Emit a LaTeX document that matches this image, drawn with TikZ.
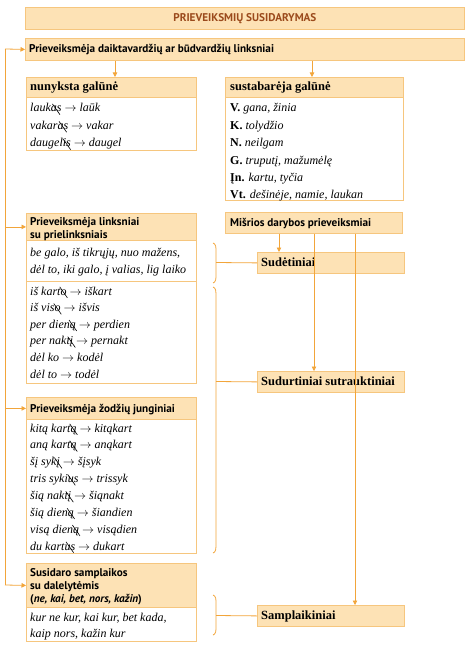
\documentclass[tikz,border=0pt]{standalone}
\usepackage{fontspec}
\setmainfont{Liberation Serif}
\newfontfamily\hsans{PT Sans}
\usetikzlibrary{arrows.meta}
\definecolor{lineC}{HTML}{F2A53A}
\definecolor{bordC}{HTML}{F6C67E}
\definecolor{headC}{HTML}{FDE2B5}
\definecolor{titleC}{HTML}{9B4A1C}
\newsavebox\cutbox
\newcommand\cutend[1]{\sbox\cutbox{#1}\rlap{\usebox\cutbox}\makebox[\wd\cutbox]{\raisebox{0.2em}{\smash{\rotatebox[origin=c]{-55}{\rule{1.1em}{0.6pt}}}}}}
\newcommand\ar{ $\rightarrow$ }
\newcommand\lab[1]{\textup{\bfseries #1}}
\newcommand\boxat[6]{\node[#2,minimum width={#5pt-#3pt},minimum height={#6pt-#4pt}] (#1) at (#3,#4) {};}
\newcommand\textlines[6]{\foreach \t [count=\i] in {#6} \node[#2] (#1\i) at (#3,{#4+#5*(\i-1)}) {\t};}
\begin{document}
\begin{tikzpicture}[x=1pt,y=-1pt,
  box/.style={draw=bordC,line width=0.8pt,inner sep=0pt,anchor=north west},
  hbox/.style={box,fill=headC},
  wbox/.style={box,fill=white},
  conn/.style={draw=lineC,line width=0.8pt},
  arr/.style={conn,-{Triangle[length=4.5pt,width=4.5pt]}},
  body/.style={anchor=base west,inner sep=0pt,font=\fontsize{12}{15}\selectfont\itshape},
  bhead/.style={anchor=base west,inner sep=0pt,font=\fontsize{12.5}{15}\selectfont\bfseries},
  shead/.style={anchor=base west,inner sep=0pt,font=\hsans\fontsize{11.2}{13}\selectfont\bfseries},
]
\useasboundingbox (0,0) rectangle (474,652);
% boxes
\boxat{title}{hbox}{25}{7}{464}{29}
\boxat{top}{hbox}{25}{38}{464}{60}
\boxat{nunH}{hbox}{26}{77}{196}{97}
\boxat{nunB}{wbox}{26}{97}{196}{150}
\boxat{susH}{hbox}{225}{77}{403}{97}
\boxat{susB}{wbox}{225}{97}{403}{200}
\boxat{linH}{hbox}{26}{213}{196}{240}
\boxat{linBa}{wbox}{26}{240}{196}{281}
\boxat{linBb}{wbox}{26}{281}{196}{383}
\boxat{mis}{hbox}{225}{212}{402}{233}
\boxat{sud}{hbox}{257}{252}{404}{273}
\boxat{sudur}{hbox}{257}{371}{404}{392}
\boxat{zodH}{hbox}{26}{397}{196}{419}
\boxat{zodB}{wbox}{26}{419}{196}{553}
\boxat{susiH}{hbox}{26}{563}{196}{607}
\boxat{susiB}{wbox}{26}{607}{196}{641}
\boxat{sampl}{hbox}{257}{605}{404}{626}
% texts
\node[font=\hsans\fontsize{11.2}{13}\selectfont\bfseries,text=titleC,inner sep=0pt] (titleT) at (title.center) {PRIEVEIKSMIŲ SUSIDARYMAS};
\node[shead] (topT) at (29,53) {Prieveiksmėja daiktavardžių ar būdvardžių linksniai};
\node[bhead] (nunT) at (30,91) {nunyksta galūnė};
\node[bhead] (susT) at (230,91) {sustabarėja galūnė};
\node[bhead] (sudT) at (261,266.5) {Sudėtiniai};
\node[bhead] (sudurT) at (261,385.5) {Sudurtiniai sutrauktiniai};
\node[bhead] (samplT) at (261,619.5) {Samplaikiniai};
\node[shead] (misT) at (230,226.5) {Mišrios darybos prieveiksmiai};
\node[shead] (zodT) at (30,412) {Prieveiksmėja žodžių junginiai};
\textlines{linT}{shead}{30}{225}{13}{Prieveiksmėja linksniai, su prielinksniais}
\textlines{susiT}{shead}{30}{576.5}{13}{Susidaro samplaikos, su dalelytėmis, {(\textit{ne, kai, bet, nors, kažin})}}
\textlines{nunL}{body}{30}{112}{17.5}{lauk\cutend{as}\ar laūk, vakar\cutend{as}\ar vakar, daugel\cutend{is}\ar daugel}
\textlines{susL}{body}{230}{112}{17.4}{{\lab{V.} gana, žinia}, {\lab{K.} tolydžio}, {\lab{N.} neilgam}, {\lab{G.} truputį, mažumėlę}, {\lab{Įn.} kartu, tyčia}, {\lab{Vt.} dešinėje, namie, laukan}}
\textlines{linLa}{body}{30}{256}{17}{{be galo, iš tikrųjų, nuo mažens,}, {dėl to, iki galo, į valias, lig laiko}}
\textlines{linLb}{body}{30}{295}{16.6}{iš kart\cutend{o}\ar iškart, iš vis\cutend{o}\ar išvis, per dien\cutend{ą}\ar perdien, per nakt\cutend{į}\ar pernakt, dėl ko\ar kodėl, dėl to\ar todėl}
\textlines{zodL}{body}{30}{432}{16.86}{kitą kart\cutend{ą}\ar kitąkart, aną kart\cutend{ą}\ar anąkart, šį syk\cutend{į}\ar šįsyk, tris syk\cutend{ius}\ar trissyk, šią nakt\cutend{į}\ar šiąnakt, šią dien\cutend{ą}\ar šiandien, visą dien\cutend{ą}\ar visądien, du kart\cutend{us}\ar dukart}
\textlines{susiL}{body}{30}{621}{16.5}{{kur ne kur, kai kur, bet kada,}, {kaip nors, kažin kur}}
% spine
\coordinate (spT) at (5,49);
\coordinate (spB) at (5,585);
\draw[conn] (spT) -- (spB);
\draw[arr] (spT) -- (top.west);
\draw[arr] (spT |- linH.west) -- (linH.west);
\draw[arr] (spT |- zodH.west) -- (zodH.west);
\draw[arr] (spB) -- (susiH.west);
% top to endings
\draw[arr] ([xshift=90pt]top.south west) -- ([xshift=89pt]nunH.north west);
\draw[arr] ([xshift=287pt]top.south west) -- ([xshift=87pt]susH.north west);
% mixed
\draw[arr] ([xshift=54pt]mis.south west) -- ([xshift=22pt]sud.north west);
\draw[arr] ([xshift=89pt]mis.south west) -- ([xshift=57pt]sudur.north west);
\draw[arr] ([xshift=130pt]mis.south west) -- ([xshift=98pt]sampl.north west);
% brackets
\coordinate (bra) at (216,262.5);
\coordinate (brb) at (216,381.5);
\coordinate (brc) at (216,615.5);
\draw[conn] (213,243) .. controls (216,244) and (216,247) .. (216,252) -- (216,274) .. controls (216,279) and (216,282) .. (213,283);
\draw[conn] (213,287) .. controls (216,288) and (216,291) .. (216,297) -- (216,543) .. controls (216,549) and (216,552) .. (213,553);
\draw[conn] (213,595) .. controls (216,596) and (216,599) .. (216,604) -- (216,626) .. controls (216,631) and (216,634) .. (213,635);
\draw[conn] (bra) -- (sud.west);
\draw[conn] (brb) -- (sudur.west);
\draw[conn] (brc) -- (sampl.west);
\end{tikzpicture}
\end{document}
